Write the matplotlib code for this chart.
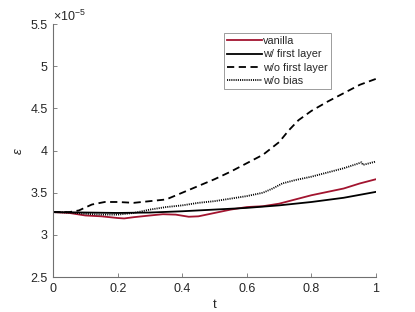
import matplotlib
matplotlib.use("Agg")
import matplotlib.pyplot as plt
import numpy as np

plt.rcParams["font.family"] = ["Liberation Sans", "DejaVu Sans"]
plt.rcParams["mathtext.fontset"] = "custom"
plt.rcParams["mathtext.rm"] = "Liberation Sans"
plt.rcParams["mathtext.it"] = "Liberation Sans:italic"

# values in units of 1e-5
t_vanilla = [0, 0.05, 0.1, 0.15, 0.2, 0.22, 0.25, 0.3, 0.34, 0.38, 0.42, 0.45,
             0.5, 0.55, 0.6, 0.65, 0.7, 0.75, 0.8, 0.85, 0.9, 0.95, 1.0]
vanilla = [3.27, 3.26, 3.23, 3.22, 3.20, 3.195, 3.21, 3.23, 3.245, 3.24, 3.215, 3.22,
           3.26, 3.30, 3.33, 3.34, 3.37, 3.42, 3.47, 3.51, 3.55, 3.61, 3.66]

t_first = [0, 0.1, 0.2, 0.3, 0.4, 0.5, 0.6, 0.7, 0.8, 0.9, 1.0]
with_first = [3.27, 3.265, 3.26, 3.265, 3.28, 3.30, 3.32, 3.35, 3.39, 3.44, 3.51]

t_nofirst = [0, 0.05, 0.08, 0.12, 0.16, 0.2, 0.25, 0.3, 0.35, 0.4, 0.45, 0.5,
             0.55, 0.6, 0.65, 0.7, 0.73, 0.76, 0.8, 0.85, 0.9, 0.95, 1.0]
without_first = [3.27, 3.27, 3.29, 3.36, 3.39, 3.39, 3.38, 3.40, 3.42, 3.50, 3.58, 3.66,
                 3.75, 3.85, 3.95, 4.10, 4.24, 4.36, 4.47, 4.58, 4.68, 4.78, 4.85]

t_bias = [0, 0.05, 0.1, 0.15, 0.2, 0.25, 0.3, 0.35, 0.4, 0.45, 0.5, 0.55, 0.6,
          0.65, 0.68, 0.71, 0.75, 0.8, 0.85, 0.9, 0.94, 0.955, 0.96, 1.0]
without_bias = [3.27, 3.265, 3.25, 3.24, 3.24, 3.26, 3.30, 3.33, 3.35, 3.38, 3.40, 3.43, 3.46,
                3.50, 3.55, 3.61, 3.65, 3.69, 3.74, 3.79, 3.84, 3.86, 3.83, 3.87]

fig = plt.figure(figsize=(4.15, 3.12), dpi=100)
ax = fig.add_axes([0.128, 0.112, 0.778, 0.811])

ax.plot(t_vanilla, vanilla, color="#A2142F", lw=1.3, label="vanilla")
ax.plot(t_first, with_first, color="black", lw=1.3, label="w/ first layer")
ax.plot(t_nofirst, without_first, color="black", lw=1.3, ls=(0, (4, 2.5)),
        label="w/o first layer")
ax.plot(t_bias, without_bias, color="black", lw=1.3, ls=(0, (0.6, 0.6)),
        label="w/o bias")

ax.set_xlim(0, 1)
ax.set_ylim(2.5, 5.5)
ax.set_xticks([0, 0.2, 0.4, 0.6, 0.8, 1.0])
ax.set_xticklabels(["0", "0.2", "0.4", "0.6", "0.8", "1"])
ax.set_yticks([2.5, 3, 3.5, 4, 4.5, 5, 5.5])
ax.set_yticklabels(["2.5", "3", "3.5", "4", "4.5", "5", "5.5"])

axis_col = "#262626"
for s in ["top", "right"]:
    ax.spines[s].set_visible(False)
for s in ["left", "bottom"]:
    ax.spines[s].set_color("#707070")
    ax.spines[s].set_linewidth(0.8)
ax.tick_params(direction="in", length=3, width=0.6, color="#707070",
               labelsize=9, labelcolor=axis_col, pad=4)

ax.set_xlabel("t", fontsize=9.5, color=axis_col, labelpad=3)
ax.set_ylabel(r"$\epsilon$", fontsize=9.5, color=axis_col, labelpad=4)

ax.text(0.0, 1.0, r"$\times10^{-5}$", transform=ax.transAxes, fontsize=9,
        color=axis_col, ha="left", va="bottom")

leg = ax.legend(loc="upper left", bbox_to_anchor=(0.53, 0.965), fontsize=7.8,
                frameon=True, fancybox=False, handlelength=3.2,
                handletextpad=0.1, borderpad=0.3, labelspacing=0.3,
                borderaxespad=0)
leg.get_frame().set_edgecolor("#707070")
leg.get_frame().set_linewidth(0.6)
for txt in leg.get_texts():
    txt.set_color(axis_col)

fig.savefig("out.png", dpi=100)
